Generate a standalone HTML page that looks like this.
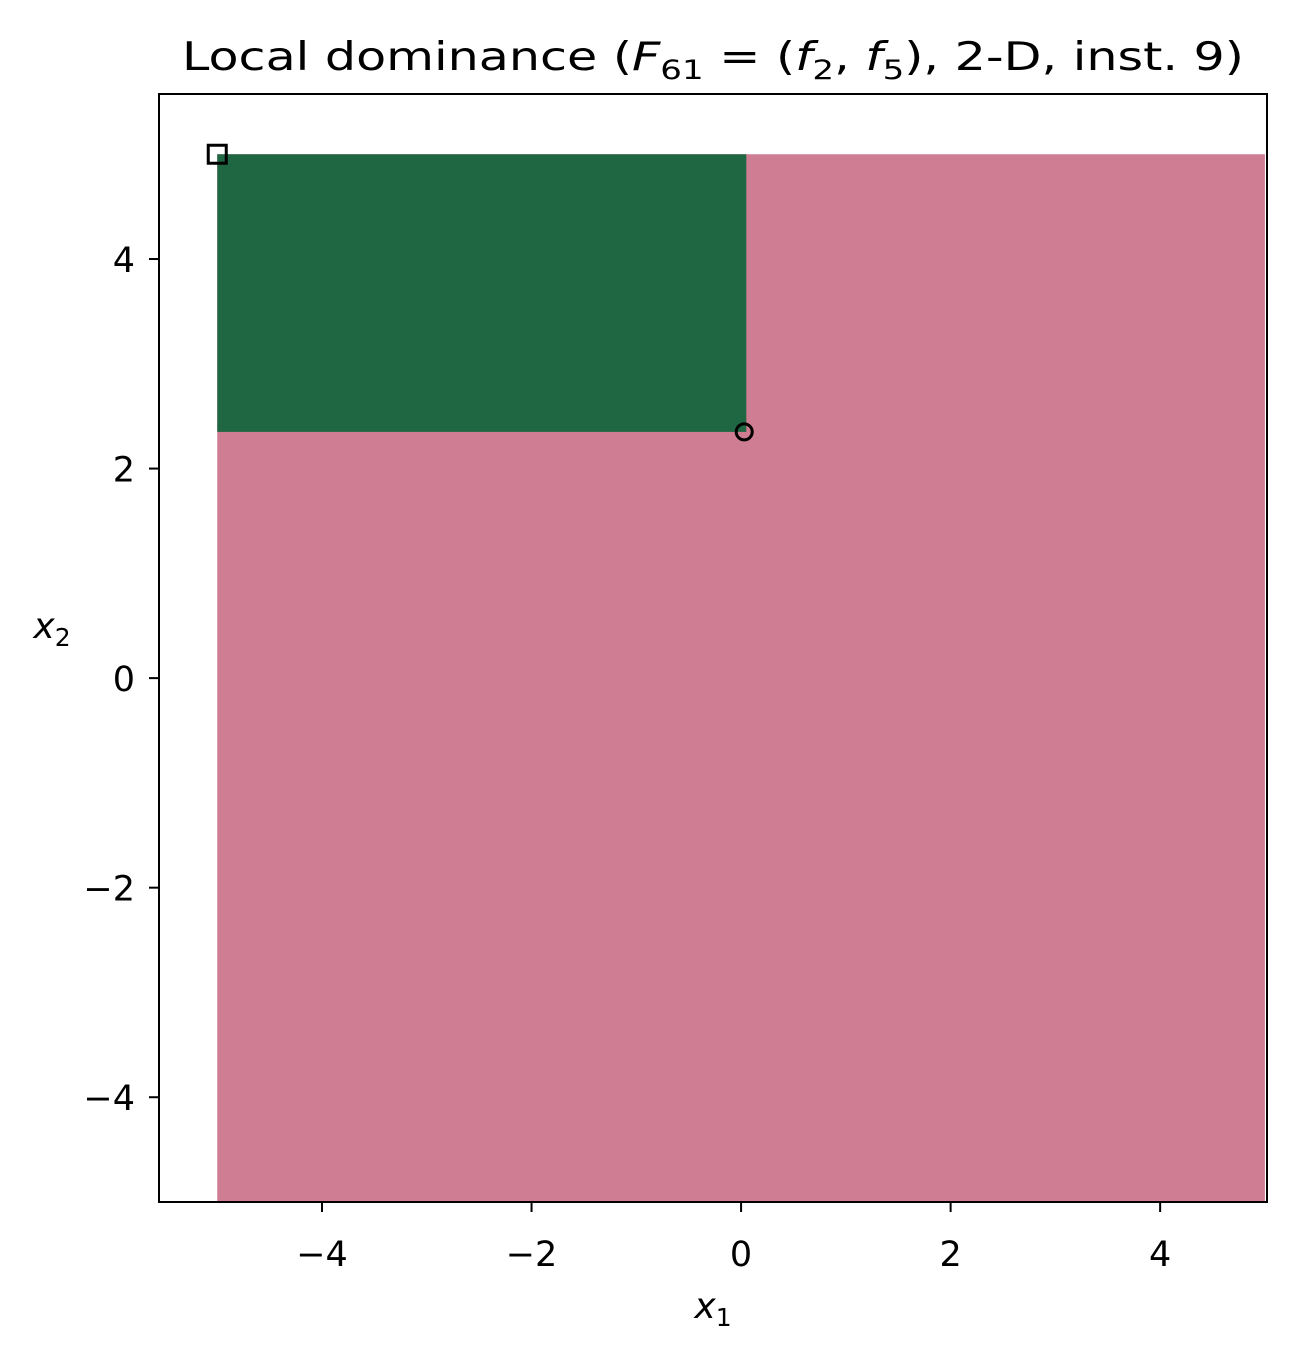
<!DOCTYPE html>
<html><head><meta charset="utf-8"><style>
body{margin:0;background:#fff;}
svg text{font-family:"DejaVu Sans","Liberation Sans",sans-serif;fill:#000;}
</style></head><body>
<svg id="chart" width="1299" height="1359" viewBox="0 0 1299 1359">
<text x="713" y="70" font-size="39" text-anchor="middle" textLength="1062" lengthAdjust="spacingAndGlyphs">Local dominance (<tspan font-style="italic">F</tspan><tspan font-size="27" dy="9">61</tspan><tspan dy="-9"> = (</tspan><tspan font-style="italic">f</tspan><tspan font-size="27" dy="9">2</tspan><tspan dy="-9">, </tspan><tspan font-style="italic">f</tspan><tspan font-size="27" dy="9">5</tspan><tspan dy="-9">), 2-D, inst. 9)</tspan></text>
<g id="plot"></g>
<text x="713" y="1318" font-size="36" font-style="italic" text-anchor="middle">x<tspan font-size="25" dy="8" font-style="normal">1</tspan></text>
<text x="52" y="638" font-size="36" font-style="italic" text-anchor="middle">x<tspan font-size="25" dy="8" font-style="normal">2</tspan></text>
</svg>
<script>
const xTicks=[-4,-2,0,2,4];
const yTicks=[-4,-2,0,2,4];
const domainBox=[-5,5,-5,5];
const dominatedRegion=[-5,0.05,2.35,5];
const squarePoint=[-5,5];
const circlePoint=[0.03,2.35];
const L=159,R=1267,T=94,B=1202,xmin=-5.556,xmax=5.02,ymin=-5.0,ymax=5.575;
const sx=v=>L+(v-xmin)/(xmax-xmin)*(R-L);
const sy=v=>B-(v-ymin)/(ymax-ymin)*(B-T);
const NS="http://www.w3.org/2000/svg";
const g=document.getElementById('plot');
function mk(t,a){const e=document.createElementNS(NS,t);for(const k in a)e.setAttribute(k,a[k]);g.appendChild(e);return e;}
let e=mk('rect',{x:sx(domainBox[0]),y:sy(domainBox[3]),width:sx(domainBox[1])-sx(domainBox[0]),height:sy(domainBox[2])-sy(domainBox[3]),fill:'#cf7d93'});


e=mk('rect',{x:sx(dominatedRegion[0]),y:sy(dominatedRegion[3]),width:sx(dominatedRegion[1])-sx(dominatedRegion[0]),height:sy(dominatedRegion[2])-sy(dominatedRegion[3]),fill:'#1f6642'});


e=mk('rect',{x:sx(squarePoint[0])-9,y:sy(squarePoint[1])-9,width:18,height:18,fill:'none',stroke:'#000','stroke-width':3});


e=mk('circle',{cx:sx(circlePoint[0]),cy:sy(circlePoint[1]),r:8,fill:'none',stroke:'#000','stroke-width':3});


e=mk('rect',{x:L,y:T,width:R-L,height:B-T,fill:'none',stroke:'#000','stroke-width':2});


xTicks.forEach(v=>{const x=sx(v);
 let l=mk('line',{x1:x,x2:x,y1:B,y2:B+10,stroke:'#000','stroke-width':2});
 
 
 let t=mk('text',{x:x,y:B+64,'font-size':35,'text-anchor':'middle'});t.textContent=(v<0?'\u2212'+(-v):v);
 
 });
yTicks.forEach(v=>{const y=sy(v);
 let l=mk('line',{x1:L-10,x2:L,y1:y,y2:y,stroke:'#000','stroke-width':2});
 
 
 let t=mk('text',{x:L-24,y:y+13,'font-size':35,'text-anchor':'end'});t.textContent=(v<0?'\u2212'+(-v):v);
 
 });
</script>
</body></html>
